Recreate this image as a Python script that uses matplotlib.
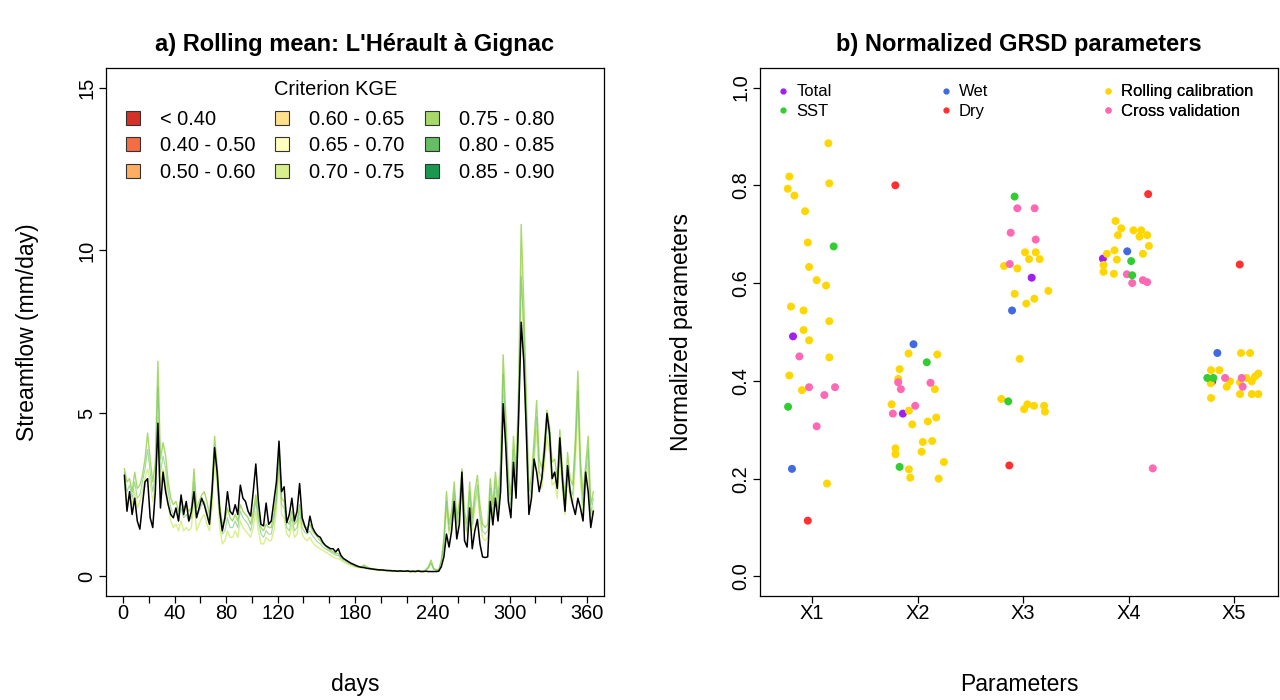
import numpy as np
import matplotlib
matplotlib.use("Agg")
import matplotlib.pyplot as plt
from matplotlib.patches import Patch
from matplotlib.lines import Line2D

plt.rcParams['font.family'] = ['Liberation Sans', 'DejaVu Sans']

# ---------------- panel a : rolling mean streamflow (read every 2nd day) ----------------
days = np.arange(1, 366, 2)

obs = [3.1, 2.0, 2.6, 1.9, 2.4, 1.7, 1.45, 2.2, 2.9, 3.0,
       1.8, 1.5, 2.6, 4.7, 2.1, 3.2, 2.6, 2.2, 1.9, 1.8,
       2.1, 1.7, 2.5, 1.9, 2.3, 1.7, 2.0, 2.6, 1.8, 2.1,
       2.4, 2.2, 1.9, 1.6, 2.6, 3.95, 3.2, 2.0, 1.4, 1.8,
       2.6, 2.0, 1.9, 2.2, 1.9, 2.8, 2.4, 2.3, 2.0, 1.85,
       2.6, 3.45, 2.3, 1.6, 1.55, 2.25, 1.6, 1.7, 2.3, 2.9,
       4.15, 2.6, 2.75, 1.65, 1.9, 2.4, 1.7, 2.0, 2.85, 1.8,
       1.55, 1.35, 1.85, 1.5, 1.35, 1.25, 1.2, 1.05, 0.95, 0.9,
       0.85, 0.85, 0.75, 0.85, 0.65, 0.55, 0.5, 0.45, 0.4, 0.37,
       0.33, 0.3, 0.28, 0.27, 0.25, 0.24, 0.23, 0.22, 0.21, 0.2,
       0.2, 0.19, 0.18, 0.18, 0.17, 0.17, 0.16, 0.17, 0.16, 0.16,
       0.17, 0.15, 0.16, 0.15, 0.17, 0.15, 0.15, 0.16, 0.15, 0.15,
       0.15, 0.15, 0.16, 0.3, 0.6, 1.3, 0.9, 1.4, 2.3, 1.15,
       1.6, 3.2, 1.1, 0.9, 2.1, 0.85, 1.4, 1.75, 1.0, 0.6,
       0.58, 0.6, 2.3, 1.58, 2.4, 1.7, 2.6, 5.3, 4.0, 2.3,
       1.8, 3.5, 2.4, 4.9, 7.8, 6.6, 4.4, 1.9, 2.4, 3.6,
       3.2, 2.6, 3.0, 3.85, 5.0, 4.4, 3.0, 3.2, 2.7, 4.25,
       3.0, 2.0, 3.4, 2.6, 2.2, 1.9, 2.4, 2.1, 1.7, 3.2,
       2.6, 1.5, 2.0]

sim_high = [3.3, 2.9, 3.0, 2.6, 3.2, 2.7, 2.8, 3.1, 3.6, 4.4,
            3.6, 2.9, 3.5, 6.6, 3.6, 4.1, 3.7, 2.9, 2.4, 2.2,
            2.3, 2.0, 2.4, 2.1, 2.2, 2.0, 2.1, 3.3, 2.1, 2.3,
            2.5, 2.6, 2.3, 1.9, 2.8, 4.3, 3.4, 2.2, 1.6, 1.7,
            2.1, 1.8, 1.7, 1.9, 1.7, 2.2, 2.0, 1.9, 1.8, 1.6,
            2.0, 2.5, 1.9, 1.5, 1.4, 1.6, 1.5, 1.5, 1.9, 2.5,
            3.9, 2.4, 2.3, 1.7, 1.6, 2.0, 1.6, 1.7, 2.2, 1.7,
            1.5, 1.5, 1.6, 1.4, 1.3, 1.2, 1.1, 1.0, 0.95, 0.85,
            0.8, 0.75, 0.7, 0.7, 0.6, 0.55, 0.5, 0.45, 0.4, 0.35,
            0.32, 0.3, 0.3, 0.35, 0.3, 0.26, 0.24, 0.22, 0.21, 0.2,
            0.2, 0.19, 0.19, 0.18, 0.18, 0.17, 0.17, 0.17, 0.16, 0.16,
            0.17, 0.16, 0.16, 0.16, 0.18, 0.17, 0.16, 0.2, 0.3, 0.5,
            0.25, 0.2, 0.2, 0.5, 1.2, 2.6, 1.6, 2.0, 2.9, 1.8,
            2.3, 3.3, 2.0, 1.6, 2.9, 1.8, 2.6, 3.1, 2.2, 1.6,
            1.5, 1.6, 3.0, 2.2, 3.2, 2.4, 3.5, 6.8, 5.0, 3.1,
            2.5, 4.3, 3.2, 5.8, 10.8, 8.4, 5.5, 2.6, 3.1, 4.2,
            5.4, 3.6, 3.3, 4.1, 5.1, 4.6, 3.5, 3.6, 3.0, 4.5,
            3.3, 2.4, 3.8, 3.0, 2.8, 4.2, 6.3, 3.6, 2.5, 3.4,
            4.3, 2.2, 2.6]

sim_mid = [3.2, 2.6, 2.8, 2.4, 2.9, 2.4, 2.5, 2.9, 3.3, 3.9,
           3.2, 2.6, 3.1, 5.8, 3.2, 3.7, 3.3, 2.6, 2.1, 1.9,
           2.0, 1.7, 2.1, 1.8, 1.9, 1.7, 1.8, 2.9, 1.8, 2.0,
           2.2, 2.3, 2.0, 1.7, 2.5, 4.0, 3.1, 1.9, 1.3, 1.4,
           1.8, 1.5, 1.5, 1.7, 1.5, 2.0, 1.8, 1.7, 1.6, 1.4,
           1.8, 2.3, 1.7, 1.3, 1.2, 1.4, 1.3, 1.3, 1.7, 2.3,
           3.6, 2.2, 2.1, 1.5, 1.4, 1.8, 1.4, 1.5, 2.0, 1.5,
           1.35, 1.3, 1.4, 1.25, 1.15, 1.05, 1.0, 0.9, 0.85, 0.8,
           0.75, 0.7, 0.65, 0.65, 0.55, 0.5, 0.45, 0.4, 0.37, 0.33,
           0.3, 0.28, 0.28, 0.31, 0.27, 0.25, 0.22, 0.21, 0.2, 0.19,
           0.19, 0.18, 0.18, 0.17, 0.17, 0.16, 0.16, 0.16, 0.16, 0.15,
           0.16, 0.15, 0.15, 0.15, 0.16, 0.16, 0.15, 0.19, 0.27, 0.4,
           0.23, 0.19, 0.19, 0.45, 1.0, 2.3, 1.4, 1.8, 2.6, 1.6,
           2.1, 3.0, 1.8, 1.4, 2.6, 1.6, 2.3, 2.8, 1.9, 1.4,
           1.3, 1.4, 2.7, 1.9, 2.9, 2.1, 3.1, 6.2, 4.5, 2.8,
           2.2, 3.9, 2.8, 5.2, 9.2, 7.6, 4.9, 2.3, 2.8, 3.8,
           4.9, 3.2, 3.0, 3.7, 4.7, 4.2, 3.1, 3.2, 2.7, 4.1,
           2.9, 2.1, 3.4, 2.7, 2.5, 3.8, 5.7, 3.2, 2.2, 3.1,
           3.9, 1.9, 2.4]

sim_low = [3.0, 2.2, 2.5, 2.2, 2.6, 2.1, 2.3, 2.6, 3.0, 3.3,
           2.9, 2.3, 2.8, 4.9, 2.8, 3.3, 2.9, 2.2, 1.7, 1.5,
           1.6, 1.4, 1.7, 1.4, 1.5, 1.4, 1.5, 2.4, 1.4, 1.6,
           1.8, 1.9, 1.6, 1.4, 2.1, 3.5, 2.8, 1.5, 1.0, 1.1,
           1.4, 1.2, 1.2, 1.4, 1.2, 1.7, 1.5, 1.4, 1.3, 1.2,
           1.5, 2.0, 1.4, 1.0, 1.0, 1.2, 1.1, 1.1, 1.4, 2.0,
           3.3, 1.9, 1.8, 1.3, 1.2, 1.6, 1.2, 1.3, 1.8, 1.3,
           1.15, 1.1, 1.2, 1.05, 0.95, 0.9, 0.85, 0.8, 0.75, 0.7,
           0.65, 0.6, 0.55, 0.55, 0.5, 0.45, 0.4, 0.36, 0.33, 0.3,
           0.28, 0.27, 0.26, 0.28, 0.25, 0.23, 0.21, 0.2, 0.19, 0.18,
           0.18, 0.17, 0.17, 0.16, 0.16, 0.16, 0.15, 0.15, 0.15, 0.15,
           0.15, 0.14, 0.14, 0.15, 0.15, 0.15, 0.15, 0.18, 0.25, 0.45,
           0.22, 0.18, 0.18, 0.4, 0.9, 2.1, 1.3, 1.6, 2.4, 1.4,
           1.9, 2.7, 1.6, 1.3, 2.4, 1.4, 2.1, 2.6, 1.7, 1.2,
           1.1, 1.2, 2.4, 1.7, 2.6, 1.9, 2.8, 5.6, 4.1, 2.5,
           1.9, 3.5, 2.5, 4.6, 9.8, 6.9, 4.3, 2.0, 2.5, 3.5,
           4.5, 2.9, 2.7, 3.4, 4.3, 3.8, 2.8, 2.9, 2.4, 3.7,
           2.6, 1.9, 3.0, 2.4, 2.2, 3.4, 5.2, 2.9, 1.9, 2.8,
           3.5, 1.6, 2.1]

kge_labels = ["< 0.40", "0.40 - 0.50", "0.50 - 0.60",
              "0.60 - 0.65", "0.65 - 0.70", "0.70 - 0.75",
              "0.75 - 0.80", "0.80 - 0.85", "0.85 - 0.90"]
kge_colors = ["#D73027", "#F46D43", "#FDAE61", "#FEE08B", "#FFFFBF",
              "#D9EF8B", "#A6D96A", "#66BD63", "#1A9850"]

x_ticks = np.arange(0, 361, 20)
x_ticklabels = ["0", "", "40", "", "80", "", "120", "", "", "180",
                "", "", "240", "", "", "300", "", "", "360"]

# ---------------- panel b : normalized GRSD parameters ----------------
params = ["X1", "X2", "X3", "X4", "X5"]

total_par = [1, 2, 3, 4, 5]
total_val = [0.491, 0.333, 0.611, 0.650, 0.399]
total_jit = [-0.18, -0.139, 0.082, -0.243, -0.206]

sst_par = [1, 1, 2, 2, 3, 3, 4, 4, 5, 5]
sst_val = [0.675, 0.347, 0.438, 0.224, 0.777, 0.358, 0.645, 0.616, 0.406, 0.406]
sst_jit = [0.205, -0.227, 0.088, -0.17, -0.08, -0.14, 0.025, 0.035, -0.253, -0.196]

wet_par = [1, 2, 3, 4, 5]
wet_val = [0.220, 0.475, 0.544, 0.665, 0.457]
wet_jit = [-0.19, -0.038, -0.104, -0.012, -0.158]

dry_par = [1, 2, 3, 4, 5]
dry_val = [0.114, 0.800, 0.227, 0.782, 0.638]
dry_jit = [-0.04, -0.21, -0.13, 0.186, 0.054]

roll_par = [1] * 19 + [2] * 19 + [3] * 17 + [4] * 15 + [5] * 16
roll_val = [0.886, 0.818, 0.804, 0.793, 0.779, 0.747, 0.683, 0.633, 0.606, 0.595,
            0.552, 0.544, 0.522, 0.504, 0.483, 0.448, 0.411, 0.381, 0.190,
            0.456, 0.454, 0.424, 0.404, 0.383, 0.352, 0.339, 0.311, 0.317, 0.325,
            0.275, 0.277, 0.255, 0.262, 0.250, 0.219, 0.202, 0.234, 0.200,
            0.663, 0.663, 0.649, 0.649, 0.635, 0.630, 0.578, 0.584, 0.558, 0.568,
            0.445, 0.363, 0.342, 0.352, 0.349, 0.349, 0.337,
            0.727, 0.712, 0.698, 0.708, 0.708, 0.695, 0.698, 0.676, 0.660, 0.667,
            0.660, 0.648, 0.637, 0.623, 0.619,
            0.457, 0.457, 0.422, 0.422, 0.395, 0.399, 0.388, 0.397, 0.406, 0.399,
            0.409, 0.415, 0.373, 0.373, 0.373, 0.365]
roll_jit = [0.155, -0.215, 0.164, -0.23, -0.167, -0.066, -0.04, -0.028, 0.044, 0.133,
            -0.2, -0.08, 0.164, -0.08, -0.028, 0.164, -0.215, -0.095, 0.142,
            -0.085, 0.187, -0.17, -0.183, 0.164, -0.246, -0.082, -0.05, 0.098, 0.177,
            0.05, 0.139, 0.038, -0.209, -0.209, -0.082, -0.069, 0.25, 0.2,
            0.019, 0.12, 0.057, 0.158, -0.18, -0.054, -0.079, 0.24, 0.031, 0.107,
            -0.031, -0.206, 0.01, 0.041, 0.104, 0.2, 0.208,
            -0.123, -0.069, -0.1, 0.047, 0.12, 0.104, 0.177, 0.193, 0.136, -0.133,
            -0.205, -0.111, -0.237, -0.237, -0.139,
            0.066, 0.152, -0.218, -0.139, -0.221, -0.038, -0.069, 0.057, 0.12, 0.168,
            0.199, 0.231, 0.057, 0.168, 0.231, -0.218]

cross_par = [1] * 5 + [2] * 5 + [3] * 5 + [4] * 5 + [5] * 3
cross_val = [0.450, 0.387, 0.387, 0.371, 0.307,
             0.397, 0.383, 0.396, 0.333, 0.349,
             0.753, 0.753, 0.703, 0.689, 0.639,
             0.618, 0.600, 0.606, 0.602, 0.221,
             0.406, 0.406, 0.388]
cross_jit = [-0.12, -0.028, 0.218, 0.117, 0.044,
             -0.183, -0.158, 0.123, -0.234, -0.022,
             -0.054, 0.11, -0.117, 0.12, -0.126,
             -0.016, 0.035, 0.136, 0.177, 0.23,
             -0.085, 0.073, 0.082]

groups = [
    ("Total", "#A020F0", total_par, total_val, total_jit),
    ("SST", "#32CD32", sst_par, sst_val, sst_jit),
    ("Wet", "#4169E1", wet_par, wet_val, wet_jit),
    ("Dry", "#FF3030", dry_par, dry_val, dry_jit),
    ("Rolling calibration", "#FFD700", roll_par, roll_val, roll_jit),
    ("Cross validation", "#FF69B4", cross_par, cross_val, cross_jit),
]
draw_order = [0, 4, 5, 1, 2, 3]

# ---------------- figure ----------------
fig = plt.figure(figsize=(12.8, 7.0), dpi=100)
ax1 = fig.add_axes([0.0828, 0.1486, 0.3891, 0.7543])
ax2 = fig.add_axes([0.59375, 0.1486, 0.4047, 0.7543])

TICK = 14.4
LAB = 16.5
TITLE = 17

for ax in (ax1, ax2):
    for sp in ax.spines.values():
        sp.set_linewidth(0.9)
        sp.set_color('black')
    ax.tick_params(direction='out', length=5, width=0.9, labelsize=TICK)
    ax.tick_params(axis='x', pad=0.5)
    ax.tick_params(axis='y', pad=2)

# panel a
ax1.plot(days, sim_low, color='#D9EF8B', lw=1.0, zorder=2)
ax1.plot(days, sim_high, color='#A6D96A', lw=1.0, zorder=3)
ax1.plot(days, sim_mid, color='#66BD63', lw=0.8, alpha=0.6, zorder=3)
ax1.plot(days, obs, color='black', lw=1.1, zorder=5)

ax1.set_xlim(-13.3, 373.3)
ax1.set_ylim(-0.6, 15.6)
ax1.set_xticks(x_ticks)
ax1.set_xticklabels(x_ticklabels)
ax1.set_yticks([0, 5, 10, 15])
ax1.set_yticklabels(["0", "5", "10", "15"], rotation=90, va='center')
ax1.set_title("a) Rolling mean: L'Hérault à Gignac", fontsize=TITLE,
              fontweight='bold', pad=12)
ax1.set_xlabel("days", fontsize=LAB)
ax1.set_ylabel("Streamflow (mm/day)", fontsize=LAB)
ax1.xaxis.set_label_coords(0.5, -0.146)
ax1.yaxis.set_label_coords(-0.1345, 0.5)

ax1.text(0.462, 0.960, "Criterion KGE", transform=ax1.transAxes,
         ha='center', va='center', fontsize=TICK)
handles = [Patch(facecolor=c, edgecolor='#333333', linewidth=0.8) for c in kge_colors]
ax1.legend(handles, kge_labels, ncol=3, loc='upper left',
           bbox_to_anchor=(0.04, 0.920), frameon=False, fontsize=TICK,
           handlelength=0.7, handleheight=0.7,
           handletextpad=1.0, columnspacing=1.0, labelspacing=0.36,
           borderpad=0, borderaxespad=0)

# panel b
for k in draw_order:
    name, col, par, val, jit = groups[k]
    xs = np.array(par) + np.array(jit)
    ax2.scatter(xs, val, s=33, color=col, edgecolors='none', zorder=3)

ax2.set_xlim(0.507, 5.417)
ax2.set_ylim(-0.04, 1.04)
ax2.set_xticks(range(1, 6))
ax2.set_xticklabels(params)
ax2.set_yticks(np.arange(0, 1.01, 0.2))
ax2.set_yticklabels(["0.0", "0.2", "0.4", "0.6", "0.8", "1.0"], rotation=90, va='center')
ax2.set_title("b) Normalized GRSD parameters", fontsize=TITLE, fontweight='bold', pad=12)
ax2.set_xlabel("Parameters", fontsize=LAB)
ax2.set_ylabel("Normalized parameters", fontsize=LAB)
ax2.xaxis.set_label_coords(0.5, -0.146)
ax2.yaxis.set_label_coords(-0.129, 0.5)

col_x = [0.035, 0.349, 0.662]
for c in range(3):
    hs, ls = [], []
    for k in (2 * c, 2 * c + 1):
        name, col = groups[k][0], groups[k][1]
        hs.append(Line2D([], [], marker='o', ls='none', color=col, markersize=3.5))
        ls.append(name)
    leg = ax2.legend(hs, ls, loc='upper left', bbox_to_anchor=(col_x[c], 0.969),
                     frameon=False, fontsize=12, handlelength=0.6,
                     handletextpad=0.5, labelspacing=0.28, borderpad=0,
                     borderaxespad=0)
    ax2.add_artist(leg)

fig.savefig("out.png", dpi=100)
